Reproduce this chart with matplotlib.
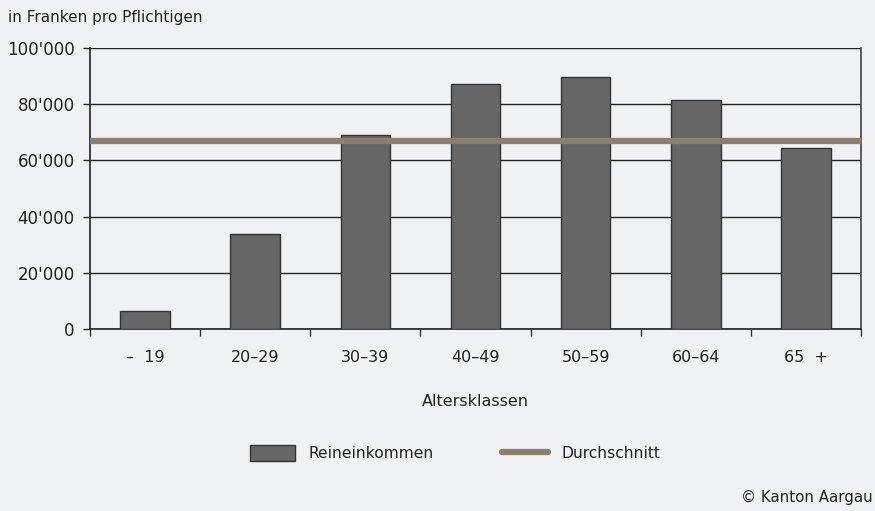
import matplotlib
matplotlib.use("Agg")

import numpy as np
import matplotlib.pyplot as plt
from matplotlib.ticker import FuncFormatter

categories = ["\u2013  19", "20\u201329", "30\u201339", "40\u201349", "50\u201359", "60\u201364", "65  +"]
reineinkommen = [6400, 33800, 69000, 87200, 89700, 81500, 64400]
durchschnitt = 66900

BG = "#f0f1f3"
BAR = "#666666"
LINE = "#8c7f70"

plt.rcParams["font.family"] = ["DejaVu Sans"]

fig = plt.figure(figsize=(8.75, 5.11), dpi=100, facecolor=BG)
ax = fig.add_axes([0.1029, 0.356, 0.881, 0.550], facecolor=BG)

x = np.arange(len(categories))

bars = ax.bar(x, reineinkommen, width=0.45, color=BAR, edgecolor="#333333",
              linewidth=1.0, zorder=3, label="Reineinkommen")
avg = ax.axhline(durchschnitt, color=LINE, linewidth=4.5, zorder=4,
                 label="Durchschnitt", solid_capstyle="round")

ax.set_xlim(-0.5, len(categories) - 0.5)
ax.set_ylim(0, 100000)
ax.set_yticks(np.arange(0, 100001, 20000))
ax.yaxis.set_major_formatter(FuncFormatter(
    lambda v, p: f"{int(v):,}".replace(",", "'")))
ax.grid(axis="y", color="#222222", linewidth=1.0, zorder=1)

ax.set_xticks(np.arange(-0.5, len(categories), 1.0))
ax.set_xticklabels([])
ax.set_xticks(x, minor=True)
ax.set_xticklabels(categories, minor=True)
ax.tick_params(axis="x", which="major", length=5, color="#333333", width=1)
ax.tick_params(axis="x", which="minor", length=0, pad=15, labelsize=11.5,
               labelcolor="#222222")
ax.tick_params(axis="y", length=5, color="#222222", width=1, pad=6,
               labelsize=12, labelcolor="#222222")

for s in ["left", "bottom", "right"]:
    ax.spines[s].set_color("#222222")
    ax.spines[s].set_linewidth(1.2)
ax.spines["top"].set_visible(False)
ax.spines["right"].set_color("#444444")

ax.set_xlabel("Altersklassen", fontsize=11.5, color="#222222", labelpad=21)

fig.text(0.009, 0.965, "in Franken pro Pflichtigen", fontsize=11,
         color="#222222", ha="left", va="center")

fig.legend(handles=[bars, avg], labels=["Reineinkommen", "Durchschnitt"],
           loc="center", bbox_to_anchor=(0.52, 0.1135), ncol=2, frameon=False,
           fontsize=11.2, handlelength=2.9, handleheight=1.2,
           columnspacing=4.4, handletextpad=0.9, labelcolor="#222222")

fig.text(0.997, 0.027, "\u00a9 Kanton Aargau", fontsize=10.8, color="#222222",
         ha="right", va="center")

fig.savefig("out.png", dpi=100, facecolor=BG)
